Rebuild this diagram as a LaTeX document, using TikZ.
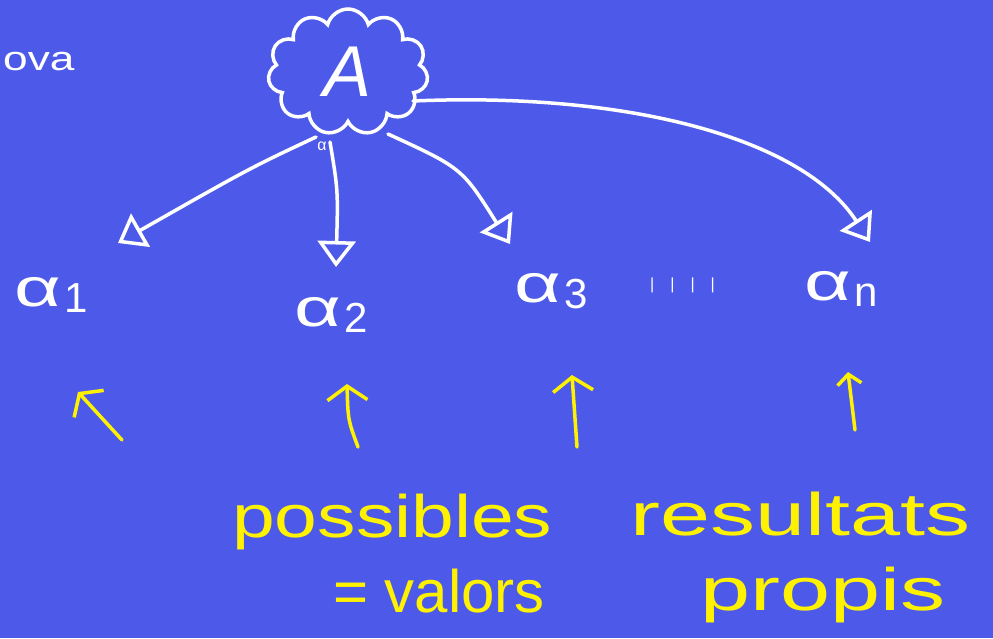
\documentclass[tikz,border=0pt]{standalone}
\usepackage{fontspec}
\setmainfont{Liberation Sans}
\usetikzlibrary{shapes.symbols,arrows.meta}
\definecolor{bg}{HTML}{4D5AE9}
\definecolor{hy}{HTML}{FFF200}
\newcommand{\alsub}[1]{\scalebox{1.5}[1]{α}\hspace{3pt}\raisebox{-0.12em}{\fontsize{42}{46}\selectfont #1}}
\begin{document}
\begin{tikzpicture}[x=1pt,y=-1pt,
  warrow/.style={white,line width=3.5pt,line cap=round,-{Triangle[open,length=26pt,width=38pt,line width=3.5pt]}},
  yarrow/.style={hy,line width=3.5pt,line cap=round,-{Straight Barb[length=14pt,width=40pt,line width=3.5pt]}},
  wlabel/.style={white,inner sep=0pt,anchor=base west},
  alabel/.style={wlabel,font=\fontsize{54}{58}\selectfont},
  ylabel/.style={hy,inner sep=0pt,anchor=base west,font=\fontsize{60}{64}\selectfont}]
\fill[bg] (0,0) rectangle (993,638);
\useasboundingbox (0,0) rectangle (993,638);
% top-left fragment
\node[wlabel,font=\fontsize{34}{38}\selectfont] (ova) at (3,70) {\scalebox{1.3}[1]{ova}};
% cloud with A
\node[cloud,cloud puffs=11,draw=white,line width=3.5pt,minimum width=160pt,minimum height=126pt,aspect=1.3] (A) at (348,72) {};
\node[white,font=\fontsize{72}{76}\selectfont\itshape] (Atext) at (A) {A};
\node[white,font=\fontsize{16}{18}\selectfont] (tiny) at (322,146) {α};
% labels
\node[alabel] (a1) at (14,306) {\alsub{1}};
\node[alabel] (a2) at (294,326) {\alsub{2}};
\node[alabel] (a3) at (514,302) {\alsub{3}};
\node[wlabel,font=\fontsize{16}{18}\selectfont] (dots) at (650,289) {|\hspace{16pt}|\hspace{16pt}|\hspace{16pt}|};
\node[alabel] (an) at (804,300) {\alsub{n}};
% arrow start / end points
\coordinate (s1) at (316,137);
\coordinate (t1) at (118,243);
\coordinate (s2) at (330,142);
\coordinate (t2) at (336,267);
\coordinate (s3) at (388,134);
\coordinate (t3) at (510,244);
\coordinate (s4) at (413,101);
\coordinate (t4) at (870,242);
\draw[warrow] (s1) .. controls (250,168) .. (t1);
\draw[warrow] (s2) .. controls (338,190) .. (t2);
\draw[warrow] (s3) .. controls (462,168) .. (t3);
\draw[warrow] (s4) .. controls (620,92) and (800,135) .. (t4);
% yellow arrows
\coordinate (b1) at (122,440);
\coordinate (u1) at (78,392);
\coordinate (b2) at (358,447);
\coordinate (u2) at (347,384);
\coordinate (b3) at (577,447);
\coordinate (u3) at (572,375);
\coordinate (b4) at (855,430);
\coordinate (u4) at (848,372);
\draw[yarrow] (b1) -- (u1);
\draw[yarrow] (b2) .. controls (348,420) .. (u2);
\draw[yarrow] (b3) -- (u3);
\draw[yarrow,-{Straight Barb[length=10pt,width=24pt,line width=3.5pt]}] (b4) -- (u4);
% yellow text
\node[ylabel] (poss) at (232,537) {\scalebox{1.28}[1]{possibles}};
\node[ylabel] (res) at (630,535) {\scalebox{1.5}[1]{resultats}};
\node[ylabel] (val) at (333,612) {= valors};
\node[ylabel] (prop) at (700,610) {\scalebox{1.5}[1]{propis}};
\end{tikzpicture}
\end{document}
